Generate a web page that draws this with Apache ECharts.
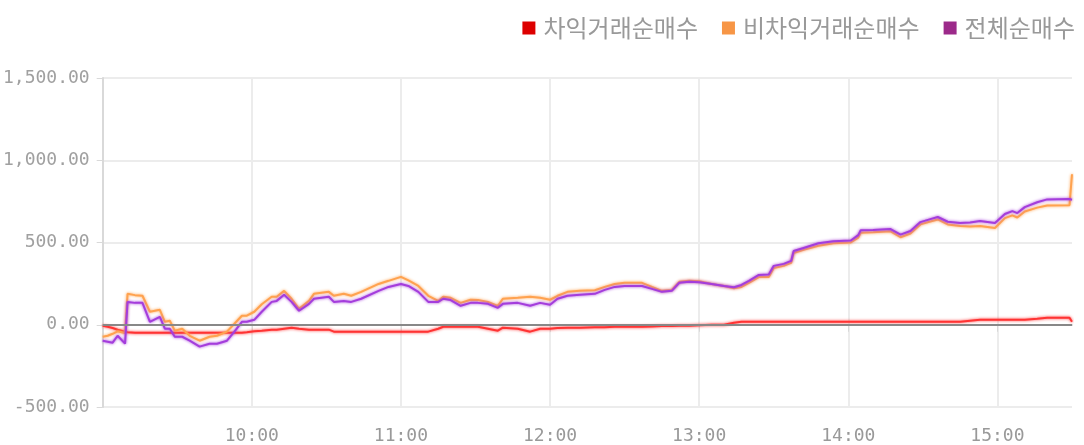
<!DOCTYPE html>
<html>
<head>
<meta charset="utf-8">
<script src="https://cdn.jsdelivr.net/npm/echarts@6/dist/echarts.min.js"></script>
<style>
  html, body { margin: 0; padding: 0; background: #fff; }
  #chart { width: 1084px; height: 445px; }
</style>
</head>
<body>
<div id="chart"></div>
<script>
// 시간 (HH:MM)
var times = [
  '09:00', '09:02', '09:04', '09:06', '09:09', '09:10', '09:13', '09:16', '09:19', '09:23',
  '09:25', '09:27', '09:29', '09:32', '09:35', '09:39', '09:43', '09:46', '09:50', '09:53',
  '09:56', '09:58', '10:01', '10:04', '10:08', '10:10', '10:13', '10:16', '10:19', '10:23',
  '10:25', '10:31', '10:33', '10:37', '10:40', '10:44', '10:51', '10:55', '11:00', '11:03',
  '11:07', '11:11', '11:15', '11:17', '11:20', '11:24', '11:28', '11:31', '11:35', '11:39',
  '11:41', '11:47', '11:52', '11:56', '12:00', '12:03', '12:07', '12:12', '12:18', '12:22',
  '12:26', '12:30', '12:37', '12:41', '12:45', '12:49', '12:52', '12:56', '13:00', '13:05',
  '13:10', '13:14', '13:17', '13:20', '13:24', '13:28', '13:30', '13:34', '13:37', '13:38',
  '13:42', '13:48', '13:54', '14:01', '14:04', '14:05', '14:10', '14:17', '14:21', '14:25',
  '14:29', '14:33', '14:36', '14:40', '14:45', '14:49', '14:53', '14:59', '15:03', '15:06',
  '15:08', '15:11', '15:16', '15:20', '15:29', '15:30'
]
// 차익거래순매수
var arbitrage = [
  -6, -12, -20, -30, -42, -45, -48, -48, -48, -48,
  -48, -48, -48, -48, -48, -48, -48, -48, -48, -48,
  -48, -45, -40, -36, -30, -30, -24, -18, -24, -30,
  -30, -30, -42, -42, -42, -42, -42, -42, -42, -42,
  -42, -42, -24, -12, -12, -12, -12, -12, -24, -36,
  -18, -24, -42, -24, -24, -20, -18, -18, -15, -15,
  -12, -12, -12, -10, -8, -8, -6, -6, -3, 0,
  0, 12, 18, 18, 18, 18, 18, 18, 18, 18,
  18, 18, 18, 18, 18, 18, 18, 18, 18, 18,
  18, 18, 18, 18, 18, 24, 30, 30, 30, 30,
  30, 30, 36, 42, 42, 18
]
// 비차익거래순매수
var nonArbitrage = [
  -73, -67, -55, -40, -50, 188, 180, 176, 79, 91,
  18, 24, -36, -24, -67, -97, -73, -67, -42, 6,
  55, 55, 79, 125, 170, 170, 206, 158, 97, 145,
  188, 200, 176, 188, 176, 200, 248, 267, 291, 270,
  236, 176, 145, 170, 164, 133, 152, 150, 139, 115,
  158, 164, 170, 164, 152, 176, 200, 206, 210, 230,
  248, 255, 255, 230, 206, 212, 261, 267, 264, 248,
  236, 222, 230, 255, 290, 290, 345, 358, 376, 436,
  455, 480, 495, 500, 530, 560, 562, 568, 532, 555,
  610, 628, 640, 610, 600, 598, 600, 588, 648, 665,
  652, 688, 712, 725, 727, 915
]
// 전체순매수
var total = [
  -97, -103, -109, -67, -115, 139, 133, 133, 18, 48,
  -24, -24, -73, -73, -97, -133, -115, -115, -97, -42,
  18, 18, 30, 79, 139, 145, 182, 139, 85, 127,
  158, 170, 139, 145, 139, 158, 206, 230, 248, 236,
  200, 139, 139, 158, 150, 115, 133, 133, 127, 103,
  127, 133, 115, 133, 121, 158, 176, 182, 188, 212,
  230, 236, 236, 218, 200, 206, 255, 261, 258, 248,
  236, 228, 242, 267, 303, 305, 358, 370, 388, 448,
  467, 495, 508, 512, 545, 575, 576, 582, 548, 570,
  624, 642, 655, 626, 618, 622, 630, 618, 673, 691,
  679, 715, 745, 762, 764, 760
]
var names = ['차익거래순매수', '비차익거래순매수', '전체순매수']
var legendColors = ['#dd0000', '#f79646', '#9c2a8a']
var lineColors = ['#ff3333', '#ffa24f', '#a43ddc']

function toMinutes(t) {
  var p = t.split(':')
  return parseInt(p[0], 10) * 60 + parseInt(p[1], 10)
}
function pad(n) {
  return n < 10 ? '0' + n : '' + n
}
function pairs(values) {
  return times.map(function(t, i) { return [toMinutes(t), values[i]] })
}
function fmtNumber(v) {
  var s = Math.abs(v).toFixed(2).split('.')
  s[0] = s[0].replace(/\B(?=(\d{3})+(?!\d))/g, ',')
  return (v < 0 ? '-' : '') + s.join('.')
}

var chart = echarts.init(document.getElementById('chart'))
var seriesData = [arbitrage, nonArbitrage, total]

chart.setOption({
  animation: false,
  textStyle: { fontFamily: 'DejaVu Sans Mono' },
  legend: {
    right: 4,
    top: 11,
    icon: 'rect',
    itemWidth: 13,
    itemHeight: 13,
    itemGap: 24,
    textStyle: {
      fontFamily: 'Noto Sans CJK KR',
      fontSize: 24,
      color: '#999',
      padding: [0, 0, 0, 3]
    },
    data: names.map(function(n, i) {
      return { name: n, itemStyle: { color: legendColors[i] } }
    })
  },
  grid: {
    left: 102,
    right: 12,
    top: 78,
    bottom: 37
  },
  xAxis: {
    type: 'value',
    min: 540,
    max: 930,
    interval: 60,
    axisLine: { lineStyle: { color: '#d9d9d9', width: 2 } },
    axisTick: { length: 7, lineStyle: { color: '#d9d9d9' } },
    splitLine: { show: true, showMaxLine: false, lineStyle: { color: '#ececec', width: 2 } },
    axisLabel: {
      showMinLabel: false,
      showMaxLabel: false,
      margin: 20,
      fontSize: 18,
      fontFamily: 'DejaVu Sans Mono',
      color: '#999',
      formatter: function(v) {
        return pad(Math.floor(v / 60)) + ':' + pad(v % 60)
      }
    }
  },
  yAxis: {
    type: 'value',
    min: -500,
    max: 1500,
    interval: 500,
    axisLine: { show: true, lineStyle: { color: '#d9d9d9', width: 2 } },
    axisTick: { show: true, length: 6, lineStyle: { color: '#d9d9d9' } },
    splitLine: { lineStyle: { color: '#ececec', width: 2 } },
    axisLabel: {
      margin: 13,
      fontSize: 18,
      fontFamily: 'DejaVu Sans Mono',
      color: '#a0a0a0',
      formatter: fmtNumber
    }
  },
  series: names.map(function(n, i) {
    var s = {
      name: n,
      type: 'line',
      showSymbol: false,
      symbol: 'none',
      itemStyle: { color: legendColors[i] },
      lineStyle: {
        color: lineColors[i],
        width: 2,
        shadowColor: lineColors[i],
        shadowBlur: 3
      },
      data: pairs(seriesData[i])
    }
    if (i === 0) {
      s.markLine = {
        silent: true,
        symbol: 'none',
        label: { show: false },
        lineStyle: { color: '#888', width: 2, type: 'solid' },
        data: [{ yAxis: 0 }]
      }
    }
    return s
  })
})
</script>
</body>
</html>
